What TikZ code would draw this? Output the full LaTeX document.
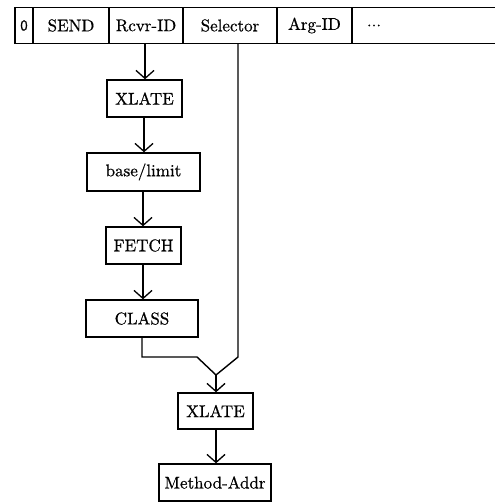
\documentclass[tikz,border=0pt]{standalone}
\usepackage{fontspec}
\setmainfont{lmroman10-regular}[Extension=.otf,FakeBold=0.6]
\setsansfont{lmsans10-regular}[Extension=.otf,FakeBold=0.6]
\usetikzlibrary{arrows.meta}
\begin{document}
\begin{tikzpicture}[x=1pt,y=-1pt,
  every node/.style={font=\fontsize{17}{20}\selectfont},
  box/.style={draw,line width=1.4pt,inner sep=0pt,anchor=center},
  cell/.style={draw,line width=1.3pt,inner sep=0pt,minimum height=36pt},
  conn/.style={line width=1.4pt},
  arr/.style={conn,-{Straight Barb[length=8pt,width=18pt,line width=1.3pt]}}]
\useasboundingbox (0,0) rectangle (494,502);
% top bar
\node[cell,minimum width=18pt] (c0) at (24,25.5) {\fontsize{15}{17}\selectfont\sffamily 0};
\node[cell,minimum width=76pt] (send) at (71,25.5) {SEND};
\node[cell,minimum width=74pt] (rcvr) at (146,25.5) {Rcvr-ID};
\node[cell,minimum width=94pt] (sel) at (230,25.5) {Selector};
\node[cell,minimum width=75pt] (arg) at (314.5,25.5) {Arg-ID};
\node[cell,minimum width=160pt] (rest) at (432,25.5) {};
\node (dots) at (374,25.5) {...};
% boxes
\node[box,minimum width=75pt,minimum height=37pt] (x1) at (144.5,98.5) {XLATE};
\node[box,minimum width=113pt,minimum height=38pt] (bl) at (143.5,172) {base/limit};
\node[box,minimum width=75pt,minimum height=37pt] (fe) at (143.5,245.5) {FETCH};
\node[box,minimum width=112pt,minimum height=37pt] (cl) at (142,318.5) {CLASS};
\node[box,minimum width=75pt,minimum height=36pt] (x2) at (215.5,411) {XLATE};
\node[box,minimum width=112pt,minimum height=37pt] (ma) at (215,482.5) {Method-Addr};
% connectors
\coordinate (m) at (216,375);
\draw[arr] (rcvr.south -| 145,0) -- (x1.north -| 145,0);
\draw[arr] (x1.south -| 144,0) -- (bl.north -| 144,0);
\draw[arr] (bl.south -| 143,0) -- (fe.north -| 143,0);
\draw[arr] (fe.south -| 143,0) -- (cl.north -| 143,0);
\draw[conn] (cl.south -| 142,0) -- (142,357) -- (197,357) -- (m);
\draw[conn] (sel.south -| 238,0) -- (238,357) -- (m);
\draw[arr] (m) -- (x2.north -| m);
\draw[arr] (x2.south -| 216,0) -- (ma.north -| 216,0);
\end{tikzpicture}
\end{document}
